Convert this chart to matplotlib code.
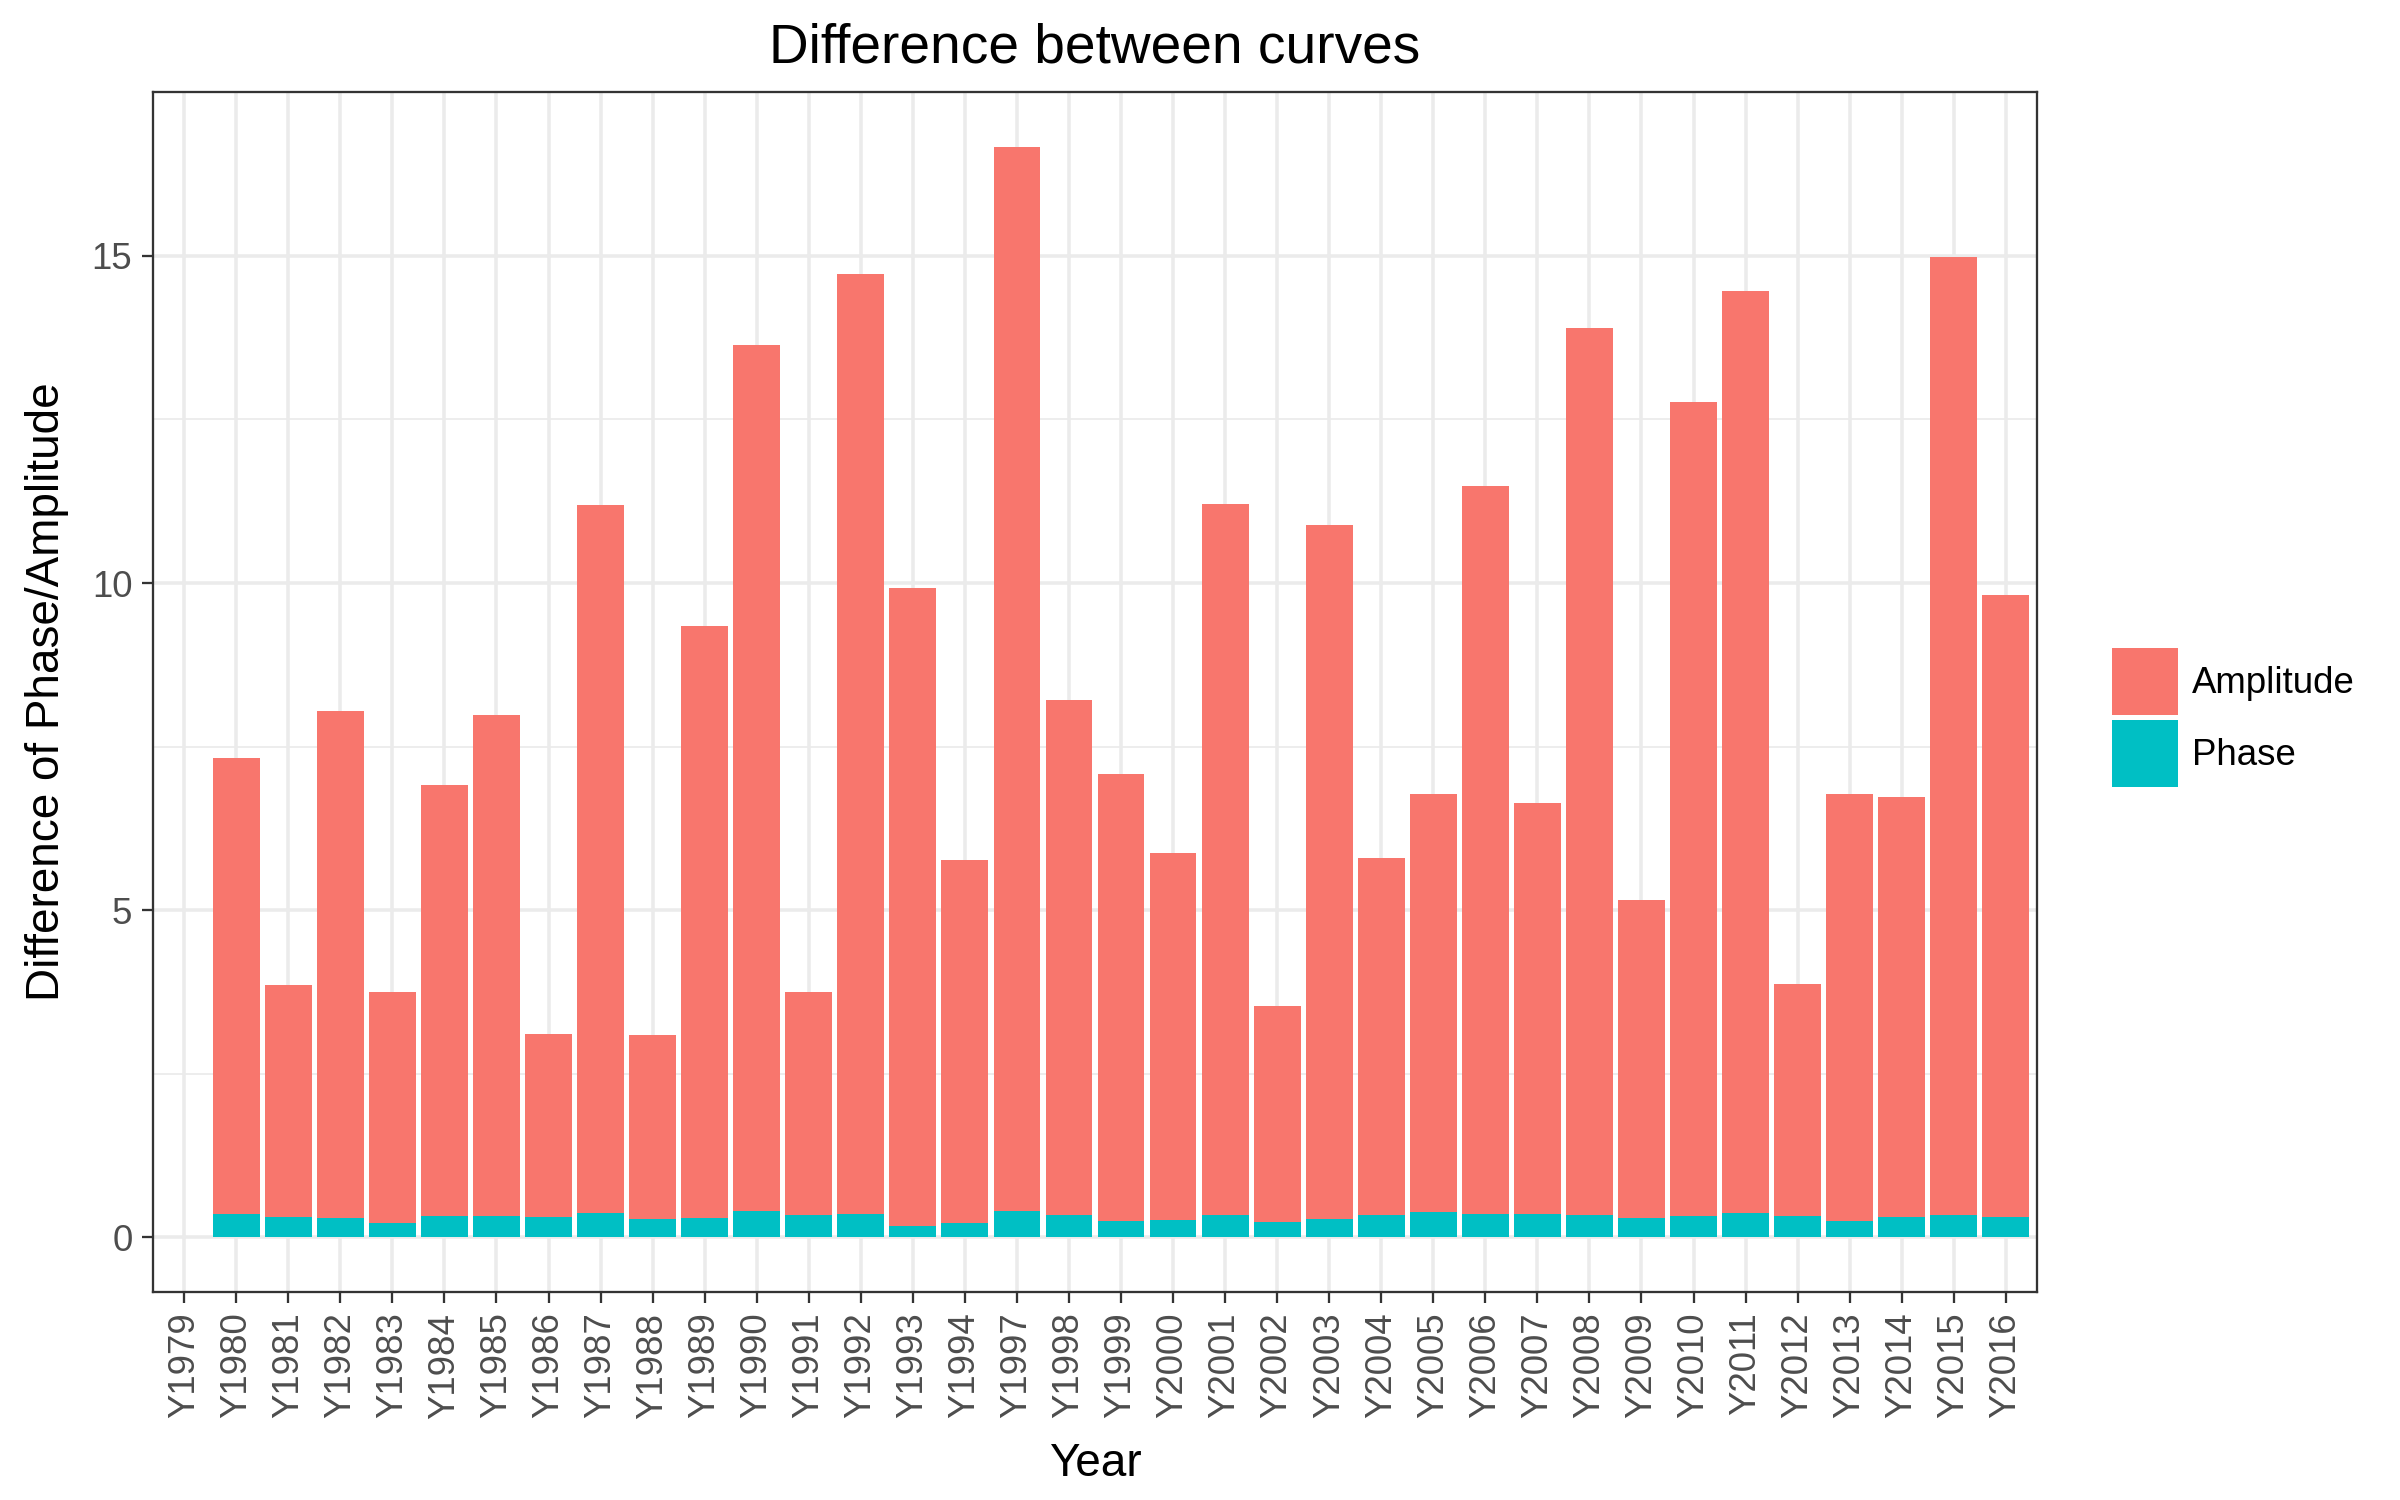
import numpy as np
import matplotlib
matplotlib.use('Agg')
import matplotlib.pyplot as plt
from matplotlib.patches import Patch
from matplotlib.ticker import MultipleLocator

plt.rcParams['font.family'] = ['Liberation Sans', 'DejaVu Sans']

years = ['Y1979', 'Y1980', 'Y1981', 'Y1982', 'Y1983', 'Y1984', 'Y1985', 'Y1986',
         'Y1987', 'Y1988', 'Y1989', 'Y1990', 'Y1991', 'Y1992', 'Y1993', 'Y1994',
         'Y1997', 'Y1998', 'Y1999', 'Y2000', 'Y2001', 'Y2002', 'Y2003', 'Y2004',
         'Y2005', 'Y2006', 'Y2007', 'Y2008', 'Y2009', 'Y2010', 'Y2011', 'Y2012',
         'Y2013', 'Y2014', 'Y2015', 'Y2016']

phase = [0.0, 0.36, 0.31, 0.30, 0.22, 0.33, 0.33, 0.31,
         0.37, 0.28, 0.30, 0.40, 0.34, 0.36, 0.18, 0.22,
         0.40, 0.34, 0.25, 0.27, 0.34, 0.24, 0.28, 0.34,
         0.39, 0.36, 0.36, 0.34, 0.30, 0.33, 0.37, 0.33,
         0.25, 0.31, 0.34, 0.31]

amplitude = [0.0, 6.96, 3.55, 7.74, 3.53, 6.59, 7.66, 2.80,
             10.82, 2.82, 9.04, 13.24, 3.41, 14.37, 9.74, 5.55,
             16.27, 7.87, 6.83, 5.61, 10.87, 3.29, 10.61, 5.46,
             6.39, 11.12, 6.28, 13.56, 4.85, 12.44, 14.09, 3.55,
             6.53, 6.42, 14.64, 9.51]

amp_col = '#F8766D'
pha_col = '#00BFC4'
grid_col = '#EBEBEB'
dark = '#333333'

x = np.arange(len(years))
phase = np.array(phase)
amplitude = np.array(amplitude)

fig = plt.figure(figsize=(16, 10), dpi=150)
ax = fig.add_axes([153/2400, 1-1292/1500, (2037-153)/2400, (1292-92)/1500])

ax.bar(x, phase, width=0.9, color=pha_col, linewidth=0)
ax.bar(x, amplitude, bottom=phase, width=0.9, color=amp_col, linewidth=0)

ax.set_xlim(-0.6, len(years)-1+0.6)
top = (phase+amplitude).max()
ax.set_ylim(-0.05*top, top*1.05)

ax.set_xticks(x)
ax.set_xticklabels(years, rotation=90, va='top', ha='center')
ax.yaxis.set_major_locator(MultipleLocator(5))
ax.yaxis.set_minor_locator(MultipleLocator(2.5))

ax.set_axisbelow(True)
ax.grid(which='major', color=grid_col, linewidth=1.7)
ax.grid(which='minor', axis='y', color=grid_col, linewidth=0.85)

for s in ax.spines.values():
    s.set_color(dark)
    s.set_linewidth(1.1)

ax.tick_params(which='major', length=5.5, width=1.1, color=dark,
               labelcolor='#4D4D4D', labelsize=17.6, pad=4.4)
ax.tick_params(which='minor', length=0)

ax.set_title('Difference between curves', fontsize=26.4, pad=14)
ax.set_xlabel('Year', fontsize=22, labelpad=11)
ax.set_ylabel('Difference of Phase/Amplitude', fontsize=22, labelpad=11)

# legend keys: ~66x67 px squares, small gap between them
fs = 17.6*150/72
hh = (67/fs - 0.245)/0.65
handles = [Patch(facecolor=amp_col, linewidth=0), Patch(facecolor=pha_col, linewidth=0)]
fig.legend(handles, ['Amplitude', 'Phase'], loc='center left',
           bbox_to_anchor=(2112/2400, 1-717.5/1500), frameon=False,
           fontsize=17.6, borderpad=0, borderaxespad=0,
           handlelength=66/fs, handleheight=hh,
           labelspacing=5/fs, handletextpad=14/fs)

fig.savefig('out.png', dpi=150)
